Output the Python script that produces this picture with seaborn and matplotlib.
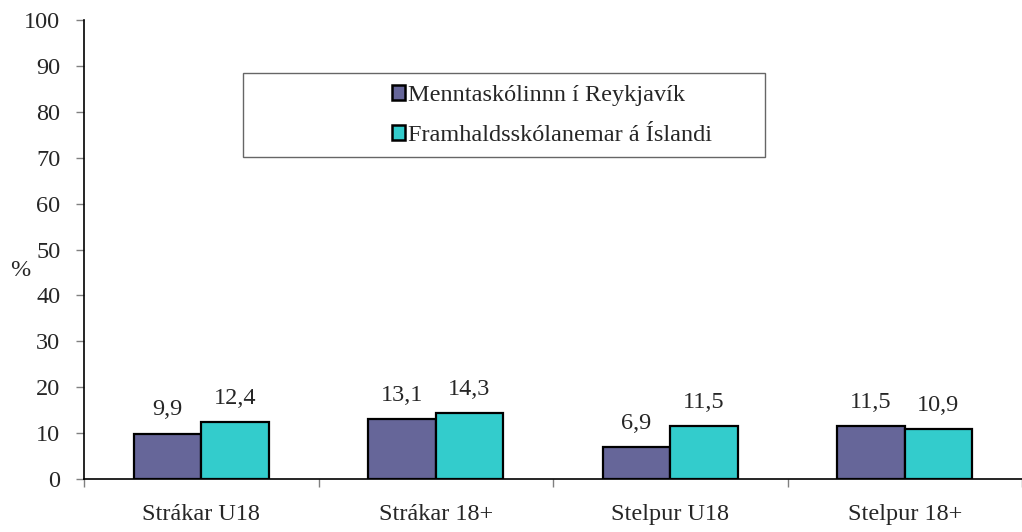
import matplotlib
matplotlib.use("Agg")
import matplotlib.pyplot as plt
import seaborn as sns
import pandas as pd
from matplotlib.patches import Rectangle, Patch

categories = ["Strákar U18", "Strákar 18+", "Stelpur U18", "Stelpur 18+"]
series_names = ["Menntaskólinnn í Reykjavík", "Framhaldsskólanemar á Íslandi"]
mr_values = [9.9, 13.1, 6.9, 11.5]
isl_values = [12.4, 14.3, 11.5, 10.9]
y_ticks = [0, 10, 20, 30, 40, 50, 60, 70, 80, 90, 100]

rows = []
for c, v in zip(categories, mr_values):
    rows.append({"cat": c, "series": series_names[0], "val": v})
for c, v in zip(categories, isl_values):
    rows.append({"cat": c, "series": series_names[1], "val": v})
df = pd.DataFrame(rows)

sns.set_theme(style="white")
plt.rcParams["font.family"] = ["Liberation Serif", "DejaVu Serif"]

FS = 17.5
W, H = 1022, 532
fig = plt.figure(figsize=(W / 100, H / 100), dpi=100)
ax = fig.add_axes([84 / W, (H - 479) / H, (W - 84) / W, (479 - 20) / H])

palette = ["#666699", "#33CCCC"]
sns.barplot(data=df, x="cat", y="val", hue="series", order=categories,
            hue_order=series_names, palette=palette, width=0.574,
            edgecolor="black", linewidth=1.6, saturation=1, ax=ax, legend=False)

ax.set_ylim(0, 100)
ax.set_xlim(-0.5, 3.458)
ax.set_yticks(y_ticks)
ax.set_yticklabels([str(t) for t in y_ticks], fontsize=FS)
ax.set_xticks(range(len(categories)))
ax.set_xticklabels(categories, fontsize=FS)
ax.set_xticks([-0.5, 0.5, 1.5, 2.5, 3.5], minor=True)
ax.tick_params(axis="x", which="major", length=0, pad=18)
ax.tick_params(axis="x", which="minor", length=6, color="#808080", width=1, direction="out", bottom=True)
ax.tick_params(axis="y", which="major", length=6, color="#808080", width=1, direction="out", left=True, pad=11)
ax.set_xlabel("")
ax.set_ylabel("%", fontsize=FS, rotation=0, va="center", ha="center")
ax.yaxis.set_label_coords(-64 / (W - 84), (479 - 270) / 459)

for s in ["top", "right"]:
    ax.spines[s].set_visible(False)
for s in ["left", "bottom"]:
    ax.spines[s].set_color("black")
    ax.spines[s].set_linewidth(1.2)

for cont in ax.containers:
    labels = [f"{v:.1f}".replace(".", ",") for v in cont.datavalues]
    ax.bar_label(cont, labels=labels, padding=9.5, fontsize=FS)

# legend
handles = [Patch(facecolor=palette[i], edgecolor="black", linewidth=1.8) for i in range(2)]
leg = fig.legend(handles, series_names, loc="center left", bbox_to_anchor=(392 / W, 1 - 115.5 / H),
                 frameon=False, fontsize=FS, handlelength=0.55, handleheight=0.55,
                 handletextpad=0.12, labelspacing=0.8, borderpad=0, borderaxespad=0)
fig.patches.append(Rectangle((243 / W, 1 - 157 / H), (765 - 243) / W, (157 - 73) / H,
                             transform=fig.transFigure, fill=False, edgecolor="#666666", linewidth=1))

fig.savefig("out.png", dpi=100)
